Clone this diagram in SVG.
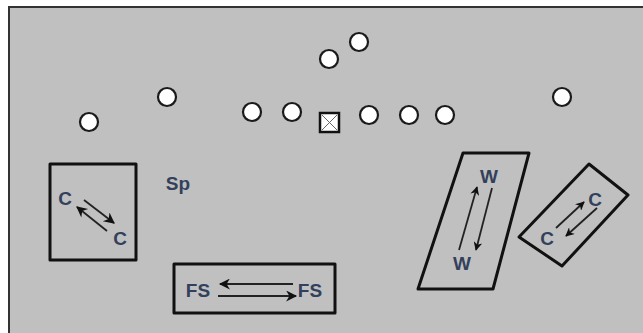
<svg xmlns="http://www.w3.org/2000/svg" width="643" height="333" viewBox="0 0 643 333">
<defs>
<style>
.pl{fill:#fff;stroke:#1a1a1a;stroke-width:2.2}
.box{fill:none;stroke:#111;stroke-width:3;stroke-linejoin:round}
.lbl{font-family:"Liberation Sans",Arial,sans-serif;font-weight:bold;font-size:19px;fill:#33405c;text-anchor:middle}
.ln{stroke:#222;stroke-width:1.8;fill:none}
</style>
<marker id="ah" viewBox="0 0 10 10" refX="9" refY="5" markerWidth="10" markerHeight="9" orient="auto" markerUnits="userSpaceOnUse">
<path d="M0,0 L10,5 L0,10 L3,5 z" fill="#111"/>
</marker>
<marker id="ahs" viewBox="0 0 10 10" refX="9" refY="5" markerWidth="13" markerHeight="11" orient="auto" markerUnits="userSpaceOnUse">
<path d="M0,0 L10,5 L0,10 L3,5 z" fill="#111"/>
</marker>
</defs>
<rect x="0" y="0" width="643" height="333" fill="#fff"/>
<rect x="9" y="7" width="640" height="330" fill="#c0c0c0" stroke="#333" stroke-width="2"/>
<g id="players">
<circle class="pl" cx="89" cy="122" r="9"/>
<circle class="pl" cx="167" cy="97" r="9"/>
<circle class="pl" cx="252" cy="112" r="9"/>
<circle class="pl" cx="292" cy="112" r="9"/>
<circle class="pl" cx="329" cy="59" r="9"/>
<circle class="pl" cx="359" cy="42" r="9"/>
<circle class="pl" cx="369" cy="115" r="9"/>
<circle class="pl" cx="409" cy="115" r="9"/>
<circle class="pl" cx="445" cy="115" r="9"/>
<circle class="pl" cx="562" cy="97" r="9"/>
</g>
<g id="center">
<rect x="320" y="113" width="19" height="19" fill="#fff" stroke="#111" stroke-width="2.5"/>
<path d="M322,115 L337,130 M337,115 L322,130" stroke="#666" stroke-width="1"/>
</g>
<g id="sp"><text class="lbl" x="178" y="190">Sp</text></g>
<g id="cbox">
<rect class="box" x="50" y="164" width="86" height="96"/>
<text class="lbl" x="65" y="205">C</text>
<text class="lbl" x="120" y="245">C</text>
</g>
<g id="fsbox">
<rect class="box" x="174" y="264" width="161" height="49"/>
<text class="lbl" x="198" y="297">FS</text>
<text class="lbl" x="310" y="297">FS</text>
</g>
<g id="wbox">
<polygon class="box" points="463,153 529,153 493,289 418,289"/>
<text class="lbl" x="489" y="183">W</text>
<text class="lbl" x="462" y="270">W</text>
</g>
<g id="cbox2">
<polygon class="box" points="589,164 628,195 562,266 519,237"/>
<text class="lbl" x="595" y="206">C</text>
<text class="lbl" x="547" y="245">C</text>
</g>
<g id="connectors">
<line class="ln" x1="84" y1="200" x2="114" y2="223" marker-end="url(#ahs)"/>
<line class="ln" x1="107" y1="231" x2="77" y2="207" marker-end="url(#ahs)"/>
<line class="ln" x1="293" y1="284" x2="220" y2="284" marker-end="url(#ahs)"/>
<line class="ln" x1="218" y1="296" x2="296" y2="296" marker-end="url(#ahs)"/>
<line class="ln" x1="459" y1="250" x2="477" y2="187" marker-end="url(#ah)"/>
<line class="ln" x1="492" y1="188" x2="476" y2="250" marker-end="url(#ah)"/>
<line class="ln" x1="556" y1="228" x2="584" y2="202" marker-end="url(#ah)"/>
<line class="ln" x1="597" y1="208" x2="566" y2="236" marker-end="url(#ah)"/>
</g>
</svg>
